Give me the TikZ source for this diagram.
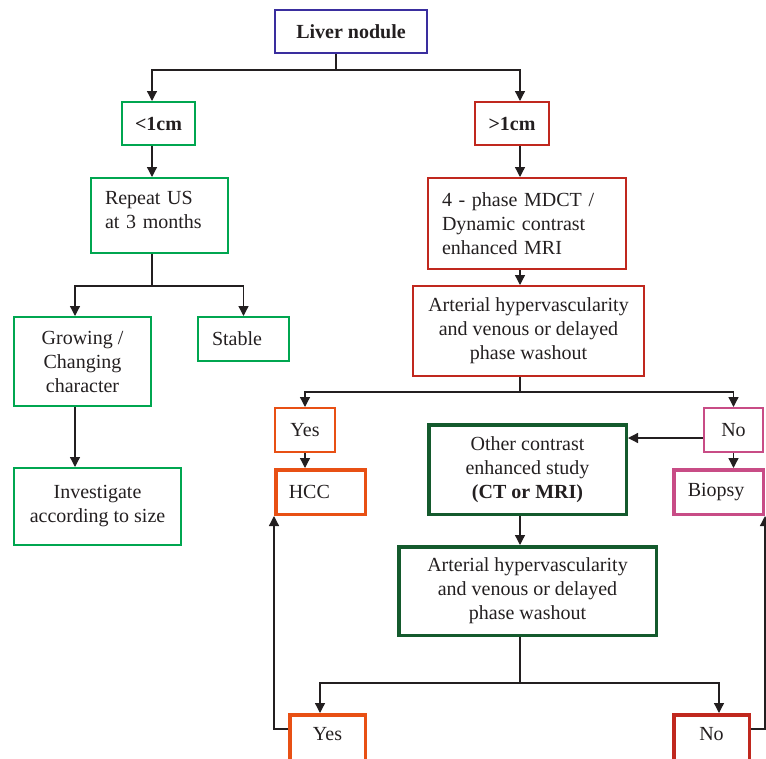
\documentclass[tikz,border=0pt]{standalone}
\usepackage{fontspec}
\setmainfont{Liberation Serif}
\usetikzlibrary{arrows.meta}

\definecolor{ink}{RGB}{35,31,32}
\definecolor{nodblue}{RGB}{58,46,158}
\definecolor{usgreen}{RGB}{0,166,80}
\definecolor{ctred}{RGB}{192,40,30}
\definecolor{hccorange}{RGB}{232,80,20}
\definecolor{biopink}{RGB}{200,76,134}
\definecolor{ctgreen}{RGB}{20,90,45}

\begin{document}
\begin{tikzpicture}[x=1pt, y=-1pt, font=\fontsize{20}{24}\selectfont, >={Triangle[width=10pt,length=10pt]}, line width=1.3pt, draw=ink, box/.style={rectangle, draw, line width=2pt, inner sep=0pt, align=center, text=ink}, bbox/.style={box, line width=3.5pt}]
    \useasboundingbox (0,0) rectangle (766,758);

    % columns and branch points
    \coordinate (top) at (336,70);
    \coordinate (lc) at (152,0);
    \coordinate (rc) at (520,0);
    \coordinate (gc) at (75,0);
    \coordinate (yc) at (320,0);
    \coordinate (nc) at (719,0);
    \coordinate (usplit) at (152,286);
    \coordinate (asplit) at (520,392);
    \coordinate (bsplit) at (520,683);
    \coordinate (yside) at (274,729);
    \coordinate (nside) at (765,729);

    \node[box, draw=nodblue, minimum width=152, minimum height=43](liver) at (351,31.5){\textbf{Liver nodule}};
    \node[box, draw=usgreen, minimum width=73, minimum height=43](small) at (158.5,123.5){\textbf{<1cm}};
    \node[box, draw=ctred, minimum width=74, minimum height=43](large) at (512,123.5){\textbf{>1cm}};

    % left branch, below 1 cm
    \node[box, draw=usgreen, align=left, inner xsep=14pt, text width=109, minimum height=75](repeat) at (159.5,215.5){Repeat US\\at 3 months\\[-12pt]\mbox{}};
    \node[box, draw=usgreen, minimum width=137, minimum height=89](grow) at (82.5,361.5){Growing /\\Changing\\character};
    \node[box, draw=usgreen, align=left, inner xsep=14pt, text width=63, minimum height=44](stable) at (243.5,339){Stable};
    \node[box, draw=usgreen, minimum width=167, minimum height=77](invest) at (97.5,506.5){Investigate\\according to size};

    % right branch, above 1 cm
    \node[box, draw=ctred, align=left, inner xsep=14pt, text width=170, minimum height=91](mdct) at (527,223.5){4 - phase MDCT /\\Dynamic contrast\\enhanced MRI};
    \node[box, draw=ctred, minimum width=231, minimum height=90](art) at (528.5,331){Arterial hypervascularity\\and venous or delayed\\phase washout};
    \node[box, draw=hccorange, minimum width=60, minimum height=44](yes) at (305,430){Yes};
    \node[box, draw=biopink, minimum width=59, minimum height=44](no) at (733.5,430){No};
    \node[bbox, draw=hccorange, align=left, inner xsep=13pt, text width=63.5, minimum height=44.5](hcc) at (320.5,492){HCC};
    \node[bbox, draw=biopink, align=left, inner xsep=14pt, text width=61.5, minimum height=44.5](biopsy) at (718.5,492){Biopsy};
    \node[bbox, draw=ctgreen, minimum width=197.5, minimum height=89.5](other) at (527.5,469.5){Other contrast\\enhanced study\\\textbf{(CT or MRI)}};
    \node[bbox, draw=ctgreen, minimum width=257.5, minimum height=88.5](art2) at (527.5,591){Arterial hypervascularity\\and venous or delayed\\phase washout};
    \node[bbox, draw=hccorange, minimum width=75.5, minimum height=58, text depth=20pt](yes2) at (327.5,743.75){Yes};
    \node[bbox, draw=ctred, minimum width=75.5, minimum height=58, text depth=20pt](no2) at (711.5,743.75){No};

\foreach \s/\t in {liver.south -| top/top, repeat.south -| lc/usplit, art.south -| rc/asplit, art2.south -| rc/bsplit}{
    \draw (\s) -- (\t);}
\foreach \s/\t in {top/small.north -| lc, top/large.north -| rc, usplit/grow.north -| gc, usplit/stable.north, asplit/yes.north, asplit/no.north, bsplit/yes2.north -| yc, bsplit/no2.north -| nc}{
    \draw[->] (\s) -| (\t);}
\foreach \s/\t in {small.south -| lc/repeat.north -| lc, large.south -| rc/mdct.north -| rc, mdct.south -| rc/art.north -| rc, grow.south -| gc/invest.north -| gc, yes.south/hcc.north -| yes, no.south/biopsy.north -| no, other.south -| rc/art2.north -| rc}{
    \draw[->] (\s) -- (\t);}
    \draw[->] ([yshift=-8pt]no.west) -- ([yshift=-8pt]no.west -| other.east);
    \draw[->] (yes2.west |- yside) -- (yside) -- (yside |- hcc.south);
    \draw[->] (no2.east |- nside) -- (nside) -- (nside |- biopsy.south);
\end{tikzpicture}
\end{document}
